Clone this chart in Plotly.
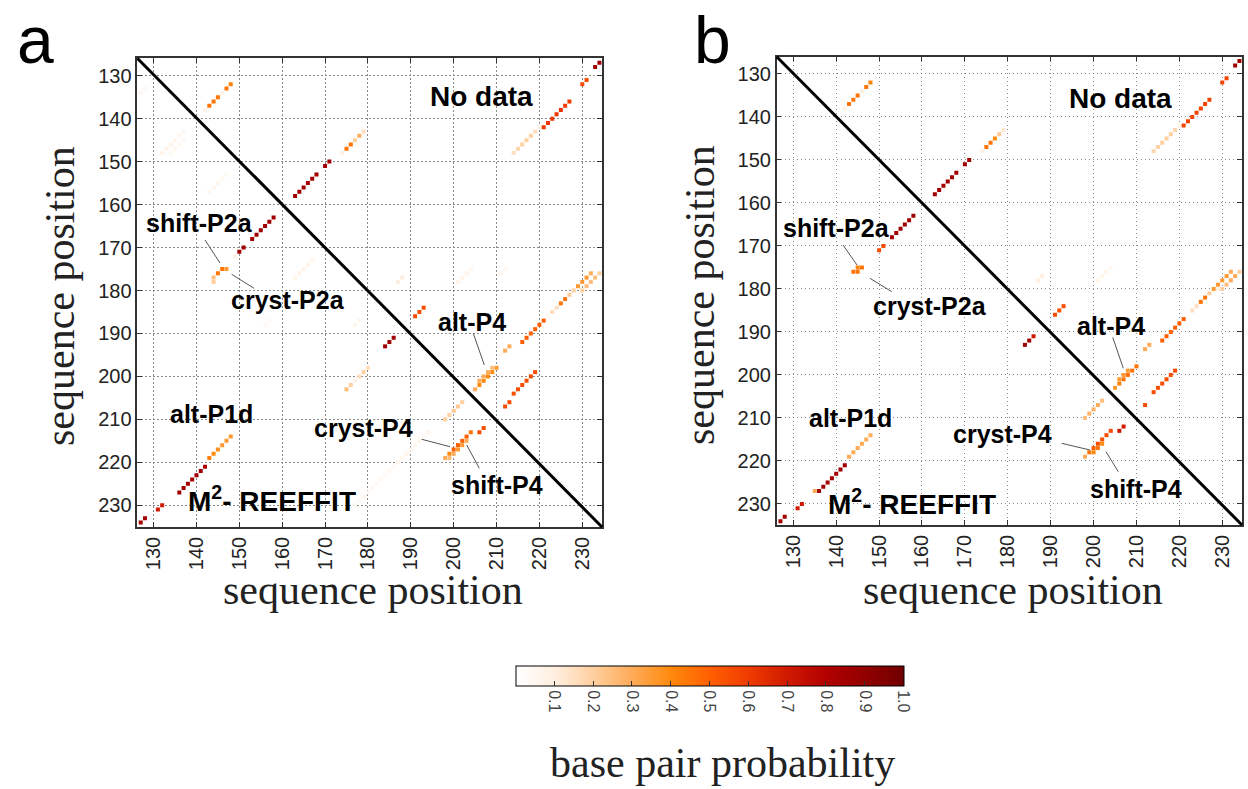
import plotly.graph_objects as go

W, H = 1248, 789

# ---------------- data ----------------
tick_vals = [130, 140, 150, 160, 170, 180, 190, 200, 210, 220, 230]
tick_text = ["130", "140", "150", "160", "170", "180", "190", "200", "210", "220", "230"]
cb_vals = [0.1, 0.2, 0.3, 0.4, 0.5, 0.6, 0.7, 0.8, 0.9, 1.0]
cb_text = ["0.1", "0.2", "0.3", "0.4", "0.5", "0.6", "0.7", "0.8", "0.9", "1.0"]

# panel a: base pairs (x, y) and probability
a_x = [142, 143, 144, 145, 146, 147, 148,
       163, 164, 165, 166, 167, 168, 170, 171,
       174, 175, 176, 177, 178, 179,
       214, 215, 216, 217, 218, 219, 220,
       221, 222, 223, 224, 225, 226, 227,
       230, 231, 233, 234,
       187, 188, 191, 192, 193,
       201, 202, 203, 204, 211, 212,
       205, 206, 207, 208, 209, 210, 206, 207, 208, 209,
       211, 212, 213,
       216, 217, 218, 219, 220, 221,
       222, 223, 224, 225, 226, 227, 228,
       229, 230, 231, 232, 230, 231, 232, 233, 234,
       212, 213, 214, 215, 216, 217, 218, 219,
       # lower triangle
       127, 128,
       132, 133, 134, 135, 136, 137, 134, 135, 136, 137,
       143, 144, 145, 146, 147,
       150, 151, 153, 154, 155, 156, 157, 158, 149,
       145, 146, 147, 144, 144,
       163, 164, 165, 166, 167, 156, 157,
       175, 176, 177, 178, 179, 180, 177, 178,
       184, 185, 186,
       198, 199, 200, 201, 202,
       194, 193, 192, 191, 190, 189, 188, 187, 186, 185, 184, 183, 182, 181, 180, 179, 178, 177,
       198, 199, 200, 201, 202, 203, 204, 199, 200, 201, 202, 203,
       206, 207,
       143, 144, 145, 146, 147, 148,
       142, 141, 140, 139, 138, 137, 136,
       132, 131, 128, 127]
a_y = [138, 137, 136, 135, 134, 133, 132,
       158, 157, 156, 155, 154, 153, 151, 150,
       148, 147, 146, 145, 144, 143,
       148, 147, 146, 145, 144, 143, 142,
       142, 141, 140, 139, 138, 137, 136,
       132, 131, 128, 127,
       178, 177, 186, 185, 184,
       178, 177, 176, 175, 176, 175,
       203, 202, 201, 200, 199, 198, 201, 200, 199, 198,
       195, 194, 193,
       192, 191, 190, 189, 188, 187,
       186, 185, 184, 183, 182, 181, 180,
       179, 178, 177, 176, 180, 179, 178, 177, 176,
       207, 206, 204, 203, 202, 201, 200, 199,
       134, 133,
       148, 147, 146, 145, 144, 143, 148, 147, 146, 145,
       157, 156, 155, 154, 153,
       171, 170, 168, 167, 166, 165, 164, 163, 172,
       176, 175, 175, 177, 178,
       177, 176, 175, 174, 173, 188, 187,
       203, 202, 201, 200, 199, 198, 188, 187,
       193, 192, 191,
       210, 209, 208, 207, 206,
       213, 214, 215, 216, 217, 218, 219, 220, 221, 222, 223, 224, 225, 226, 227, 228, 229, 230,
       219, 218, 217, 216, 215, 214, 213, 219, 218, 217, 216, 215,
       213, 212,
       219, 218, 217, 216, 215, 214,
       221, 222, 223, 224, 225, 226, 227,
       230, 231, 233, 234]
a_p = [0.08, 0.45, 0.45, 0.45, 0.08, 0.45, 0.42,
       0.85, 0.85, 0.85, 0.85, 0.85, 0.85, 0.85, 0.85,
       0.1, 0.45, 0.45, 0.2, 0.3, 0.15,
       0.15, 0.18, 0.2, 0.2, 0.2, 0.15, 0.1,
       0.6, 0.62, 0.62, 0.62, 0.62, 0.6, 0.6,
       0.55, 0.55, 0.85, 0.85,
       0.1, 0.1, 0.55, 0.55, 0.55,
       0.06, 0.07, 0.07, 0.05, 0.05, 0.05,
       0.3, 0.4, 0.4, 0.4, 0.4, 0.35, 0.3, 0.3, 0.3, 0.25,
       0.05, 0.3, 0.3,
       0.5, 0.5, 0.5, 0.5, 0.5, 0.5,
       0.05, 0.15, 0.15, 0.45, 0.45, 0.2, 0.2,
       0.35, 0.35, 0.35, 0.3, 0.2, 0.25, 0.25, 0.25, 0.2,
       0.55, 0.55, 0.55, 0.55, 0.55, 0.55, 0.55, 0.55,
       0.05, 0.05,
       0.07, 0.08, 0.08, 0.07, 0.06, 0.05, 0.04, 0.05, 0.05, 0.04,
       0.05, 0.06, 0.06, 0.05, 0.04,
       0.85, 0.85, 0.85, 0.85, 0.85, 0.85, 0.85, 0.85, 0.08,
       0.45, 0.45, 0.35, 0.25, 0.2,
       0.06, 0.07, 0.07, 0.07, 0.06, 0.04, 0.04,
       0.25, 0.2, 0.08, 0.15, 0.2, 0.15, 0.06, 0.06,
       0.85, 0.85, 0.85,
       0.2, 0.2, 0.22, 0.22, 0.2,
       0.06, 0.05, 0.06, 0.05, 0.05, 0.06, 0.05, 0.05, 0.04, 0.05, 0.04, 0.05, 0.04, 0.05, 0.04, 0.05, 0.04, 0.04,
       0.3, 0.4, 0.5, 0.5, 0.5, 0.5, 0.45, 0.25, 0.3, 0.35, 0.35, 0.3,
       0.55, 0.55,
       0.42, 0.4, 0.38, 0.35, 0.35, 0.35,
       0.82, 0.85, 0.85, 0.85, 0.85, 0.85, 0.85,
       0.7, 0.7, 0.85, 0.85]

# panel b
b_x = [142, 143, 144, 145, 146, 147, 148,
       163, 164, 165, 166, 167, 168, 170, 171,
       174, 175, 176, 177, 178, 179,
       214, 215, 216, 217, 218, 219, 220,
       221, 222, 223, 224, 225, 226, 227,
       230, 231, 233, 234,
       187, 188, 191, 192, 193,
       201, 202, 203, 204, 211,
       205, 206, 207, 208, 209, 210, 206, 207, 208,
       212, 213,
       216, 217, 218, 219, 220, 221,
       223, 224, 225, 226,
       227, 228, 229, 230, 231, 232,
       229, 230, 231, 232, 233, 234,
       212, 214, 215, 216, 217, 218, 219,
       # lower triangle
       150, 151, 153, 154, 155, 156, 157, 158,
       144, 145, 145, 146,
       184, 185, 186,
       198, 199, 200, 201, 202,
       198, 199, 200, 201, 202, 203, 204, 200, 201, 202,
       206, 207,
       143, 144, 145, 146, 147, 148,
       142, 141, 140, 139, 138, 137, 136, 135,
       132, 131, 128, 127]
b_y = [138, 137, 136, 135, 134, 133, 132,
       158, 157, 156, 155, 154, 153, 151, 150,
       148, 147, 146, 145, 144, 143,
       148, 147, 146, 145, 144, 143, 142,
       142, 141, 140, 139, 138, 137, 136,
       132, 131, 128, 127,
       178, 177, 186, 185, 184,
       178, 177, 176, 175, 176,
       203, 202, 201, 200, 199, 198, 201, 200, 199,
       194, 193,
       192, 191, 190, 189, 188, 187,
       185, 184, 183, 182,
       181, 180, 179, 178, 177, 176,
       180, 180, 179, 178, 177, 176,
       207, 204, 203, 202, 201, 200, 199,
       171, 170, 168, 167, 166, 165, 164, 163,
       176, 176, 175, 175,
       193, 192, 191,
       210, 209, 208, 207, 206,
       219, 218, 217, 216, 215, 214, 213, 218, 217, 216,
       213, 212,
       219, 218, 217, 216, 215, 214,
       221, 222, 223, 224, 225, 226, 227, 227,
       230, 231, 233, 234]
b_p = [0.08, 0.45, 0.45, 0.45, 0.1, 0.45, 0.42,
       0.85, 0.85, 0.85, 0.85, 0.85, 0.85, 0.85, 0.85,
       0.08, 0.45, 0.45, 0.4, 0.22, 0.12,
       0.18, 0.2, 0.2, 0.2, 0.2, 0.18, 0.08,
       0.58, 0.58, 0.58, 0.58, 0.58, 0.58, 0.58,
       0.58, 0.58, 0.85, 0.85,
       0.1, 0.1, 0.55, 0.55, 0.55,
       0.06, 0.07, 0.07, 0.05, 0.04,
       0.35, 0.42, 0.45, 0.45, 0.45, 0.45, 0.35, 0.35, 0.35,
       0.3, 0.3,
       0.5, 0.5, 0.5, 0.5, 0.5, 0.5,
       0.15, 0.15, 0.45, 0.45,
       0.2, 0.35, 0.35, 0.35, 0.35, 0.3,
       0.1, 0.2, 0.25, 0.3, 0.3, 0.2,
       0.55, 0.55, 0.55, 0.55, 0.55, 0.55, 0.55,
       0.55, 0.55, 0.85, 0.85, 0.85, 0.85, 0.85, 0.85,
       0.45, 0.45, 0.42, 0.45,
       0.85, 0.85, 0.7,
       0.25, 0.28, 0.28, 0.3, 0.25,
       0.3, 0.45, 0.5, 0.55, 0.55, 0.55, 0.55, 0.4, 0.45, 0.4,
       0.7, 0.7,
       0.3, 0.3, 0.3, 0.3, 0.3, 0.3,
       0.85, 0.85, 0.85, 0.85, 0.85, 0.85, 0.85, 0.3,
       0.7, 0.7, 0.85, 0.85]

colorscale = [[0.0, "#ffffff"], [0.1, "#ffefe0"], [0.2, "#ffcf9f"], [0.3, "#ffab58"],
              [0.4, "#ff890c"], [0.5, "#ff5f00"], [0.6, "#ef3c00"], [0.7, "#d01a00"],
              [0.8, "#b20000"], [0.9, "#920000"], [1.0, "#700000"]]

# ---------------- figure ----------------
def px(x):
    return x / W


def py(y):
    return 1 - y / H


fig = go.Figure()
marker_common = dict(symbol="square", size=4, line=dict(width=0), coloraxis="coloraxis")
fig.add_trace(go.Scatter(x=a_x, y=a_y, mode="markers", xaxis="x", yaxis="y",
                         marker=dict(color=a_p, **marker_common), hoverinfo="skip"))
fig.add_trace(go.Scatter(x=b_x, y=b_y, mode="markers", xaxis="x2", yaxis="y2",
                         marker=dict(color=b_p, **marker_common), hoverinfo="skip"))

tickfont = dict(family="Liberation Sans, Arial, sans-serif", size=20, color="#222")
axis_common = dict(tickmode="array", tickvals=tick_vals, ticktext=tick_text,
                   ticks="inside", ticklen=5, tickwidth=1, tickcolor="#333",
                   showline=True, linecolor="#333", linewidth=1.5, mirror="ticks",
                   showgrid=True, gridcolor="#8a8a8a", griddash="1.5px,2.5px", gridwidth=1,
                   zeroline=False, tickfont=tickfont, fixedrange=True)

fig.update_layout(
    width=W, height=H, autosize=False,
    margin=dict(l=0, r=0, t=0, b=0, pad=0),
    paper_bgcolor="white", plot_bgcolor="white", showlegend=False,
    xaxis=dict(domain=[px(137.3), px(602)], range=[126.2, 234.6], anchor="y",
               tickangle=-90, **axis_common),
    yaxis=dict(domain=[py(527), py(58.3)], range=[235.05, 125.95], anchor="x",
               **axis_common),
    xaxis2=dict(domain=[px(776.7), px(1242)], range=[126.13, 234.6], anchor="y2",
                tickangle=-90, **axis_common),
    yaxis2=dict(domain=[py(525), py(56.7)], range=[234.9, 125.98], anchor="x2",
                **axis_common),
    coloraxis=dict(
        colorscale=colorscale, cmin=0, cmax=1,
        colorbar=dict(orientation="h", x=px(709.5), xanchor="center",
                      y=py(666), yanchor="top", thickness=20,
                      len=387.6, lenmode="pixels", xpad=0, ypad=0,
                      tickmode="array", tickvals=cb_vals, ticktext=cb_text,
                      tickangle=90, ticks="inside", ticklen=5, tickcolor="#333",
                      outlinewidth=1, outlinecolor="black",
                      tickfont=dict(family="Liberation Sans, Arial, sans-serif",
                                    size=16, color="#444")),
    ),
)

# diagonal lines
for xr, yr in (("x", "y"), ("x2", "y2")):
    fig.add_shape(type="line", xref=xr + " domain", yref=yr + " domain",
                  x0=0, y0=1, x1=1, y1=0, line=dict(color="black", width=3))

# annotation pointer lines (pixel positions)
pointer_lines = [
    (205, 240, 220, 263), (231.7, 274.3, 254, 288.3), (473.3, 333.3, 484.3, 365),
    (421.7, 439.3, 450, 446.7), (466.7, 445, 479.3, 468.3),
    (843, 245, 857, 265), (870, 278.3, 891.7, 291.7), (1112.7, 337.3, 1123.3, 368.3),
    (1061.7, 443.3, 1090, 450), (1106, 451.7, 1118.3, 471.7),
]
for x0, y0, x1, y1 in pointer_lines:
    fig.add_shape(type="line", xref="paper", yref="paper",
                  x0=px(x0), y0=py(y0), x1=px(x1), y1=py(y1),
                  line=dict(color="#555", width=1))

bold = dict(family="Liberation Sans, Arial, sans-serif", size=25, color="black")
big_bold = dict(family="Liberation Sans, Arial, sans-serif", size=28, color="black")
labels = [
    ("<b>shift-P2a</b>", 199, 223, bold), ("<b>cryst-P2a</b>", 288, 300, bold),
    ("<b>alt-P4</b>", 472, 322, bold), ("<b>alt-P1d</b>", 211, 414, bold),
    ("<b>cryst-P4</b>", 363, 428, bold), ("<b>shift-P4</b>", 497, 485, bold),
    ("<b>No data</b>", 481, 97, big_bold), ("<b>M<sup>2</sup>- REEFFIT</b>", 272, 499, big_bold),
    ("<b>shift-P2a</b>", 837, 228, bold), ("<b>cryst-P2a</b>", 930, 306, bold),
    ("<b>alt-P4</b>", 1111, 326, bold), ("<b>alt-P1d</b>", 850, 418, bold),
    ("<b>cryst-P4</b>", 1002, 434, bold), ("<b>shift-P4</b>", 1136, 489, bold),
    ("<b>No data</b>", 1120, 99, big_bold), ("<b>M<sup>2</sup>- REEFFIT</b>", 912, 502, big_bold),
]
for text, x, y, font in labels:
    fig.add_annotation(text=text, x=px(x), y=py(y), xref="paper", yref="paper",
                       xanchor="center", yanchor="middle", showarrow=False, font=font)

serif = dict(family="Liberation Serif, Times New Roman, serif", size=42, color="#222")
titles = [
    ("sequence position", 373, 590, 0), ("sequence position", 1013, 590, 0),
    ("sequence position", 60, 296, -90), ("sequence position", 700, 295, -90),
    ("base pair probability", 722, 763, 0),
]
for text, x, y, ang in titles:
    fig.add_annotation(text=text, x=px(x), y=py(y), xref="paper", yref="paper",
                       xanchor="center", yanchor="middle", showarrow=False,
                       textangle=ang, font=serif)

letter_font = dict(family="Liberation Sans, Arial, sans-serif", size=66, color="black")
for text, x, y in (("a", 35, 0.5), ("b", 712, 0.5)):
    fig.add_annotation(text=text, x=px(x), y=py(y), xref="paper", yref="paper",
                       xanchor="center", yanchor="top", showarrow=False, font=letter_font)

fig.write_html("out.html", config={"displayModeBar": False},
               post_script="document.body.style.margin='0';")
